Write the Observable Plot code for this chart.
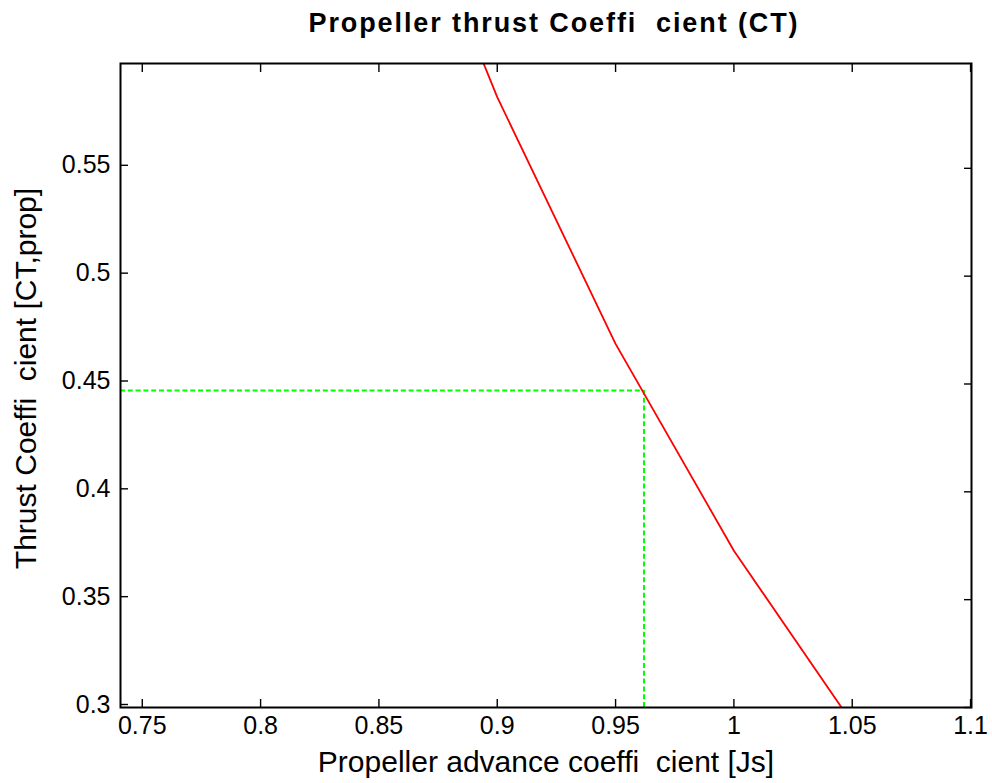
<!DOCTYPE html>
<html>
<head>
<meta charset="utf-8">
<script src="https://cdn.jsdelivr.net/npm/d3@7"></script>
<script src="https://cdn.jsdelivr.net/npm/@observablehq/plot@0.6"></script>
<style>
  html, body { margin: 0; padding: 0; background: #fff; }
  body { font-family: "Liberation Sans", Arial, sans-serif; width: 992px; }
  #title {
    box-sizing: border-box; height: 43px; width: 992px;
    padding: 5px 21px 0 137px; line-height: 36px;
    text-align: center; font-weight: bold; font-size: 27px; letter-spacing: 1.9px; color: #000;
    white-space: pre;
  }
</style>
</head>
<body>
<div id="title"></div>
<div id="chart"></div>
<script>
// ---- data ----
const titleText = "Propeller thrust Coeffi  cient (CT)";
const xLabel = "Propeller advance coeffi  cient [Js]";
const yLabel = "Thrust Coeffi  cient [CT,prop]";

const J  = [0.85, 0.90, 0.95, 1.00, 1.05];
const CT = [0.718, 0.583, 0.4686, 0.3727, 0.2928];

const opJ = 0.962;    // operating advance coefficient
const opCT = 0.447;   // operating thrust coefficient

const xDomain = [0.7408, 1.1004];
const yDomain = [0.3, 0.5986];

const xTicks = [0.75, 0.8, 0.85, 0.9, 0.95, 1.0, 1.05, 1.1];
const xTickLabels = ["0.75", "0.8", "0.85", "0.9", "0.95", "1", "1.05", "1.1"];
const yTicks = [0.3, 0.35, 0.4, 0.45, 0.5, 0.55];
const yTickLabels = ["0.3", "0.35", "0.4", "0.45", "0.5", "0.55"];

// ---- build ----
document.getElementById("title").textContent = titleText;

const curve = J.map((j, i) => ({J: j, CT: CT[i]}));

const chart = Plot.plot({
  width: 992,
  height: 740,
  marginTop: 20,
  marginBottom: 76,
  marginLeft: 120,
  marginRight: 21,
  style: {fontFamily: "'Liberation Sans', Arial, sans-serif", fontSize: "25px", color: "#000", background: "#fff"},
  x: {domain: xDomain},
  y: {domain: yDomain},
  marks: [
    Plot.ruleY([opCT], {x1: xDomain[0], x2: opJ, stroke: "#00ff00", strokeWidth: 2, strokeDasharray: "5,2.8"}),
    Plot.ruleX([opJ], {y1: yDomain[0], y2: opCT, stroke: "#00ff00", strokeWidth: 2, strokeDasharray: "5,2.8"}),
    Plot.line(curve, {x: "J", y: "CT", stroke: "#ff0000", strokeWidth: 1.8, clip: true}),
    Plot.axisX({anchor: "bottom", ticks: xTicks, tickSize: -8, tickPadding: 16.5, strokeWidth: 1.4,
      tickFormat: (d, i) => xTickLabels[i], label: null, fontSize: 25}),
    Plot.axisX({anchor: "top", ticks: xTicks, tickSize: -8, strokeWidth: 1.4, tickFormat: () => "", label: null}),
    Plot.axisY({anchor: "left", ticks: yTicks, tickSize: -8, tickPadding: 18, dy: -3, strokeWidth: 1.4,
      tickFormat: (d, i) => yTickLabels[i], label: null, fontSize: 25}),
    Plot.axisY({anchor: "right", ticks: yTicks, tickSize: -8, strokeWidth: 1.4, tickFormat: () => "", label: null}),
    Plot.frame({stroke: "#000", strokeWidth: 2}),
    Plot.text([xLabel], {frameAnchor: "bottom", textAnchor: "middle", dy: 64.7, lineAnchor: "bottom", fontSize: 30, fill: "#000"}),
    Plot.text([yLabel], {frameAnchor: "left", textAnchor: "middle", rotate: -90, dx: -85, dy: -7, lineAnchor: "bottom", fontSize: 30, fill: "#000"})
  ]
});
document.getElementById("chart").appendChild(chart);
</script>
</body>
</html>
